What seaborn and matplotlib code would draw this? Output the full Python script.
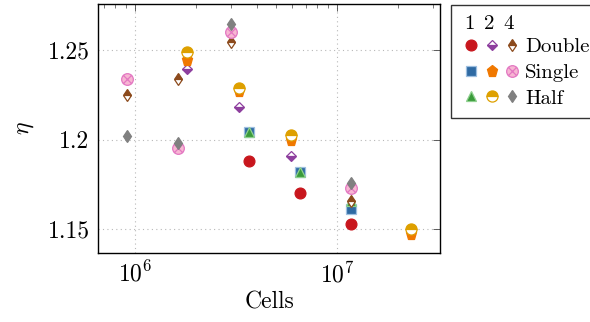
import matplotlib
matplotlib.use('Agg')
import matplotlib.pyplot as plt
import numpy as np
import pandas as pd
import seaborn as sns
from matplotlib.lines import Line2D
from matplotlib.path import Path
from matplotlib.legend_handler import HandlerTuple
from matplotlib.ticker import LogLocator, NullFormatter, FixedLocator, FixedFormatter

# eta vs. number of cells; runs on 1, 2 and 4 units, each in double/single/half precision
cells_1 = [3.68e6, 6.56e6, 1.17e7]
double_1 = [1.1880, 1.1700, 1.1530]
single_1 = [1.2043, 1.1819, 1.1614]
half_1 = [1.2043, 1.1819, 1.1655]

cells_2 = [1.82e6, 3.27e6, 5.94e6, 2.34e7]
double_2 = [1.2397, 1.2183, 1.1907]
single_2 = [1.2444, 1.2272, 1.2000, 1.1474]
half_2 = [1.2490, 1.2291, 1.2028, 1.1500]

cells_4 = [9.16e5, 1.64e6, 2.98e6, 1.17e7]
double_4 = [1.2248, 1.2336, 1.2543, 1.1656]
single_4 = [1.2339, 1.1953, 1.2603, 1.1731]
half_4 = [1.2020, 1.1983, 1.2644, 1.1757]

units = ['1', '2', '4']
precisions = ['Double', 'Single', 'Half']

# circle with a cross in it (pgfplots "otimes*")
c = np.sqrt(0.5)
cross = Path([(-c, -c), (c, c), (-c, c), (c, -c)],
             [Path.MOVETO, Path.LINETO, Path.MOVETO, Path.LINETO])
otimes = Path.make_compound_path(Path.unit_circle(), cross)


def mk(marker, fc, ec, ms=7.5, fill='full', alt='white', mew=0.9):
    return dict(marker=marker, markersize=ms, fillstyle=fill, markerfacecolor=fc,
                markerfacecoloralt=alt, markeredgecolor=ec, markeredgewidth=mew, color=ec)


styles = {
    ('Double', '1'): mk('o', '#c8161d', '#c8161d', ms=7.8),
    ('Single', '1'): mk('s', '#2f6aa3', '#9dbfe0', ms=7.2),
    ('Half', '1'): mk('^', '#3a9b3a', '#8fd08f', ms=7.6),
    ('Double', '2'): mk('D', '#8e3f9e', '#8e3f9e', ms=5.6, fill='bottom'),
    ('Single', '2'): mk('p', '#f07800', '#f07800', ms=8.2),
    ('Half', '2'): mk('o', '#dea000', '#dea000', ms=8.0, fill='top'),
    ('Double', '4'): mk('d', '#8c4a1c', '#8c4a1c', ms=6.0, fill='top'),
    ('Single', '4'): mk(otimes, '#f7b6d2', '#e377c2', ms=8.4),
    ('Half', '4'): mk('d', '#808080', '#808080', ms=6.0),
}

data = {
    '1': (cells_1, {'Double': double_1, 'Single': single_1, 'Half': half_1}),
    '2': (cells_2, {'Double': double_2, 'Single': single_2, 'Half': half_2}),
    '4': (cells_4, {'Double': double_4, 'Single': single_4, 'Half': half_4}),
}

sns.set_theme(style='white')
plt.rcParams['font.family'] = ['cmr10', 'DejaVu Serif']
plt.rcParams['mathtext.fontset'] = 'cm'
plt.rcParams['axes.formatter.use_mathtext'] = True
plt.rcParams['axes.unicode_minus'] = False
plt.rcParams['text.color'] = 'black'
plt.rcParams['axes.labelcolor'] = 'black'

fig = plt.figure(figsize=(5.9, 3.22), dpi=100)
ax = fig.add_axes([98 / 590, 1 - 253 / 322, 342 / 590, 249 / 322])
ax.set_xscale('log')

for u in units:
    cells, series = data[u]
    for p in precisions:
        vals = series[p]
        df = pd.DataFrame({'cells': cells[:len(vals)], 'eta': vals})
        sns.lineplot(data=df, x='cells', y='eta', ax=ax, estimator=None, sort=False,
                     linestyle='', legend=False, zorder=3, **styles[(p, u)])

ax.set_xlim(6.56e5, 3.24e7)
ax.set_ylim(1.1366, 1.2758)
ax.yaxis.set_major_locator(FixedLocator([1.15, 1.2, 1.25]))
ax.yaxis.set_major_formatter(FixedFormatter(['1.15', '1.2', '1.25']))
ax.xaxis.set_major_locator(LogLocator(base=10))
ax.xaxis.set_minor_locator(LogLocator(base=10, subs=np.arange(2, 10)))
ax.xaxis.set_minor_formatter(NullFormatter())

ax.grid(True, which='major', linestyle=(0, (1, 3)), color='#b8b8b8', linewidth=0.8)
ax.tick_params(which='both', direction='in', top=True, right=True, colors='#444444',
               labelcolor='black', labelsize=17)
ax.tick_params(which='major', length=5, width=0.6, pad=6)
ax.tick_params(which='minor', length=3, width=0.5)
for s in ax.spines.values():
    s.set_color('black')
    s.set_linewidth(1.0)

ax.set_xlabel('Cells', fontsize=17, labelpad=3)
ax.set_ylabel(r'$\eta$', fontsize=17, labelpad=8)

# legend: one row per precision, one marker per unit count
handles = []
for p in precisions:
    row = tuple(Line2D([], [], linestyle='None', **styles[(p, u)]) for u in units)
    handles.append(row)
leg = fig.legend(handles, precisions, loc='upper left',
                 bbox_to_anchor=(451 / 590, 1 - 5 / 322), fontsize=15, title=' ',
                 title_fontsize=13, handler_map={tuple: HandlerTuple(ndivide=None, pad=0)},
                 handlelength=2.9, handletextpad=0.15, labelspacing=0.34, borderpad=0.5,
                 frameon=True, fancybox=False, edgecolor='#333333', framealpha=1,
                 borderaxespad=0)
leg.get_frame().set_linewidth(1.0)
for u, xp in zip(units, [469, 489, 509]):
    fig.text(xp / 590, 1 - 24 / 322, u, ha='center', va='center', fontsize=15,
             color='black', zorder=10)

fig.savefig('out.png', dpi=100)
